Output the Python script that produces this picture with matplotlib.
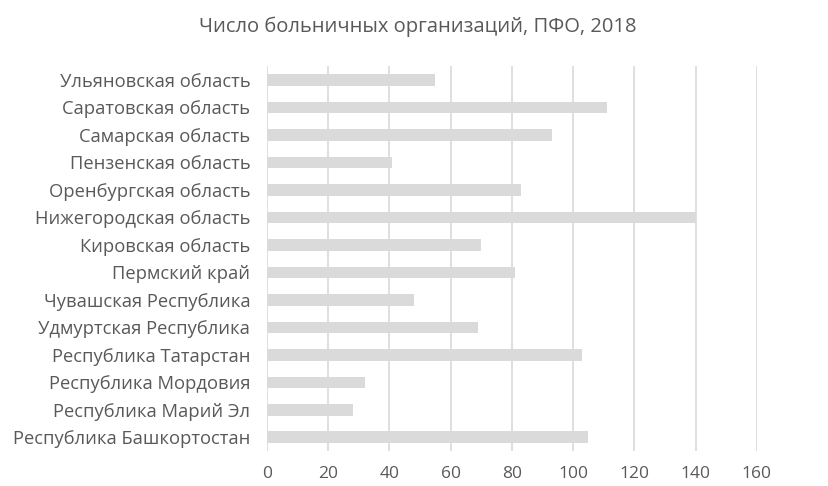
import matplotlib
matplotlib.use("Agg")
import matplotlib.pyplot as plt

# hospital organisations per region, Volga Federal District, 2018
regions = [
    "Республика Башкортостан",
    "Республика Марий Эл",
    "Республика Мордовия",
    "Республика Татарстан",
    "Удмуртская Республика",
    "Чувашская Республика",
    "Пермский край",
    "Кировская область",
    "Нижегородская область",
    "Оренбургская область",
    "Пензенская область",
    "Самарская область",
    "Саратовская область",
    "Ульяновская область",
]
hospitals = [105, 28, 32, 103, 69, 48, 81, 70, 140, 83, 41, 93, 111, 55]
xticks = [0, 20, 40, 60, 80, 100, 120, 140, 160]

plt.rcParams['font.family'] = ['Open Sans', 'DejaVu Sans']
text_col = '#595959'
grid_col = '#d9d9d9'

fig = plt.figure(figsize=(8.29, 4.86), dpi=100)
ax = fig.add_axes([0.322, 0.072, 0.591, 0.792])

ax.barh(range(len(regions)), hospitals, height=0.42, color='#dadada', zorder=2)

ax.set_xlim(0, 160)
ax.set_ylim(-0.5, len(regions) - 0.5)
ax.set_xticks(xticks)
ax.set_yticks(range(len(regions)))
ax.set_yticklabels(regions)
ax.xaxis.grid(True, color=grid_col, linewidth=1.2, zorder=0)
ax.tick_params(axis='both', length=0, colors=text_col)
ax.tick_params(axis='x', pad=11, labelsize=12.5)
ax.tick_params(axis='y', pad=12, labelsize=13.2)
for s in ax.spines.values():
    s.set_visible(False)

fig.text(0.504, 0.944, "Число больничных организаций, ПФО, 2018",
         ha='center', va='center', fontsize=14.5, color=text_col)

fig.savefig("out.png", dpi=100)
